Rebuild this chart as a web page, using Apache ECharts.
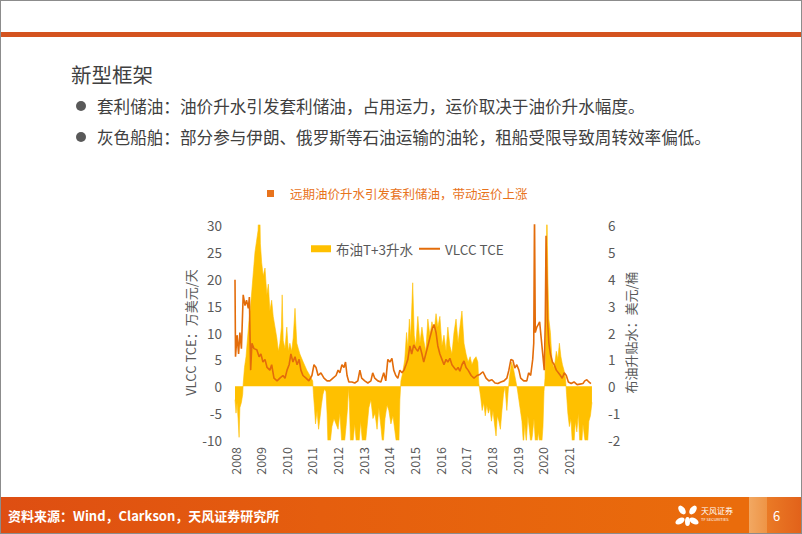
<!DOCTYPE html>
<html><head><meta charset="utf-8">
<script src="https://cdn.jsdelivr.net/npm/echarts@6/dist/echarts.min.js"></script>
<style>
html,body{margin:0;padding:0;background:#fff;}
body{width:802px;height:534px;position:relative;overflow:hidden;font-family:"Noto Sans CJK SC","Noto Sans",sans-serif;}
#chart{position:absolute;left:0;top:0;width:802px;height:534px;}
.frame{position:absolute;left:0;top:0;width:800px;height:532px;border:1px solid #8c8c8c;pointer-events:none;z-index:20}
.topbar{position:absolute;left:1px;top:32px;width:800px;height:5px;background:#D4531F;z-index:5}
.title{position:absolute;left:71px;top:60px;font-size:20.5px;color:#404040;line-height:28px;z-index:5;white-space:nowrap}
.bullet{position:absolute;left:97px;font-size:16.6px;color:#404040;line-height:22px;white-space:nowrap;z-index:5}
.dot{position:absolute;left:76px;width:10px;height:10px;border-radius:50%;background:#595959;z-index:5}
.sq{position:absolute;left:267px;top:190px;width:7px;height:7px;background:#E8731C;z-index:5}
.ctitle{position:absolute;left:290px;top:185px;font-size:12.5px;line-height:18px;color:#E8731C;white-space:nowrap;z-index:5}
.footer{position:absolute;left:1px;top:497px;width:800px;height:36px;background:linear-gradient(to right,#DE4E12 0%,#E55E0E 40%,#EA6C0C 90%);z-index:5}
.fb1{position:absolute;left:749px;top:497px;width:18px;height:36px;background:linear-gradient(to right,#F2A862,#EE9446);z-index:6}
.fb2{position:absolute;left:767px;top:497px;width:34px;height:36px;background:linear-gradient(to right,#EA7A26,#E2621A);z-index:6}
.ftext{position:absolute;left:8px;top:506px;font-size:13px;font-weight:bold;color:#fff;line-height:20px;white-space:nowrap;z-index:7}
.pnum{position:absolute;left:773px;top:506px;font-size:13px;color:#fff;line-height:20px;z-index:7}
.logo{position:absolute;left:676px;top:504px;width:24px;height:24px;z-index:7}
.petal{position:absolute;width:6px;height:10px;background:#fff;border-radius:50%;}
.ltext{position:absolute;left:701px;top:506px;font-size:8px;color:#fff;line-height:10px;white-space:nowrap;z-index:7}
.ltext2{position:absolute;left:701px;top:517px;font-size:4px;color:#fff;line-height:5px;white-space:nowrap;z-index:7}
</style>
</head><body>
<div id="chart"></div>
<div class="frame"></div>
<div class="topbar"></div>
<div class="title">新型框架</div>
<div class="dot" style="top:101px"></div>
<div class="bullet" style="top:95px">套利储油：油价升水引发套利储油，占用运力，运价取决于油价升水幅度。</div>
<div class="dot" style="top:132px"></div>
<div class="bullet" style="top:126px">灰色船舶：部分参与伊朗、俄罗斯等石油运输的油轮，租船受限导致周转效率偏低。</div>
<div class="sq"></div>
<div class="ctitle">远期油价升水引发套利储油，带动运价上涨</div>
<div class="footer"></div>
<div class="fb1"></div>
<div class="fb2"></div>
<div class="ftext">资料来源：Wind，Clarkson，天风证券研究所</div>
<div class="logo">
  <div class="petal" style="left:3px;top:1px;transform:rotate(-35deg)"></div>
  <div class="petal" style="left:14px;top:1px;transform:rotate(35deg)"></div>
  <div class="petal" style="left:1px;top:12px;transform:rotate(60deg)"></div>
  <div class="petal" style="left:15px;top:12px;transform:rotate(-60deg)"></div>
  <div class="petal" style="left:9px;top:13px;width:5px;height:9px"></div>
</div>
<div class="ltext">天风证券</div>
<div class="ltext2">TF SECURITIES</div>
<div class="pnum">6</div>
<script>
// Brent T+3 contango (USD/bbl, right axis) — x in decimal years
const brentYears = [
2008.00,2008.04,2008.08,2008.12,2008.16,2008.19,2008.25,2008.30,2008.32,2008.37,2008.43,2008.49,2008.55,2008.60,2008.66,2008.72,2008.78,2008.84,2008.90,2008.95,2008.99,
2009.04,2009.10,2009.17,2009.24,2009.30,2009.36,2009.43,2009.49,2009.56,2009.63,2009.69,2009.75,2009.81,2009.84,2009.88,2009.95,
2010.02,2010.08,2010.14,2010.21,2010.27,2010.34,2010.41,2010.47,2010.53,2010.66,2010.80,2010.92,2011.03,
2011.06,2011.10,2011.14,2011.20,2011.26,2011.31,2011.37,2011.43,2011.49,2011.55,2011.59,2011.63,2011.70,2011.78,2011.86,2011.94,
2012.02,2012.09,2012.17,2012.25,2012.33,2012.39,2012.42,2012.46,2012.51,2012.59,2012.67,2012.75,2012.83,2012.90,2012.98,
2013.06,2013.14,2013.22,2013.30,2013.38,2013.46,2013.54,2013.61,2013.69,2013.77,2013.85,2013.93,
2014.00,2014.08,2014.16,2014.24,2014.32,2014.39,2014.43,2014.47,2014.54,2014.62,2014.69,2014.74,2014.80,2014.85,2014.93,2014.99,
2015.05,2015.13,2015.21,2015.29,2015.36,2015.44,2015.52,2015.60,2015.68,2015.76,2015.84,2015.91,2015.99,
2016.07,2016.15,2016.23,2016.30,2016.38,2016.46,2016.54,2016.62,2016.70,2016.77,2016.85,2016.93,
2017.01,2017.09,2017.17,2017.24,2017.32,2017.40,2017.47,2017.51,2017.55,2017.58,2017.64,2017.70,2017.76,2017.82,2017.88,2017.94,
2018.00,2018.06,2018.12,2018.18,2018.23,2018.29,2018.35,2018.41,2018.47,2018.53,2018.60,2018.66,2018.71,2018.79,2018.87,2018.95,
2019.01,2019.07,2019.13,2019.19,2019.25,2019.30,2019.36,2019.42,2019.48,2019.54,2019.60,2019.66,2019.72,2019.77,2019.83,2019.89,2019.95,
2020.01,2020.05,2020.09,2020.13,2020.16,2020.20,2020.24,2020.30,2020.36,2020.42,2020.48,2020.53,2020.59,2020.65,2020.71,2020.77,2020.83,2020.89,2020.93,2020.98,
2021.04,2021.10,2021.16,2021.21,2021.27,2021.33,2021.39,2021.45,2021.51,2021.57,2021.63,2021.68,2021.74,2021.80,2021.86,2021.92];
const brentValues = [
-0.5,-1.0,-0.6,-1.2,-1.9,-0.8,-0.6,-0.3,0.1,0.7,1.1,1.8,2.5,2.9,3.6,4.3,5.0,5.4,5.8,7.5,5.3,
4.6,4.1,4.4,3.4,3.8,2.8,3.2,2.6,2.2,1.8,1.3,1.6,2.2,3.4,1.7,1.4,
2.2,1.3,1.6,1.3,1.8,2.9,1.6,1.4,1.2,0.9,0.6,0.4,0.2,
-0.3,-0.8,-1.4,-0.9,-1.6,-1.2,-0.7,-0.3,-0.1,-0.2,-1.0,-2.3,-2.2,-1.5,-1.2,-1.4,
-1.6,-1.0,-2.2,-2.3,-1.5,-0.8,-0.05,-0.6,-2.3,-2.2,-1.4,-2.3,-2.2,-1.3,-2.2,
-2.4,-1.6,-0.8,-0.5,-1.2,-1.0,-1.6,-0.8,-1.5,-2.3,-1.2,-0.7,
-0.9,-1.4,-1.1,-1.7,-2.3,-2.2,-0.5,0.2,0.5,1.0,2.0,1.4,2.5,1.8,3.85,1.9,
1.5,2.6,1.6,2.2,1.7,1.3,2.5,1.9,2.4,2.0,2.7,2.2,2.6,
1.5,1.9,1.3,2.2,1.5,1.2,2.0,2.5,1.6,2.2,2.8,1.6,
1.2,0.9,1.1,0.8,1.0,1.1,0.9,0.1,-0.2,-0.4,-0.9,-0.6,-1.1,-0.7,-1.0,-0.8,
-1.3,-0.9,-1.4,-1.85,-1.1,-1.3,-1.6,-0.9,-0.3,0.0,-0.9,-0.1,0.4,0.9,0.6,0.2,
-0.1,-0.5,-0.9,-1.3,-2.2,-1.4,-2.1,-1.1,-1.6,-2.2,-1.8,-1.2,-2.2,-2.3,-1.7,-2.2,-2.3,
-1.5,-0.2,0.3,2.5,7.0,4.1,2.5,2.0,1.0,0.7,0.9,1.3,1.0,1.6,1.1,0.8,0.6,0.3,-0.3,-1.0,
-1.5,-1.2,-2.2,-2.3,-1.3,-1.7,-1.0,-2.2,-2.3,-1.4,-1.9,-2.2,-2.3,-1.3,-1.1,-0.6];

// VLCC TCE (10k USD/day, left axis)
const vlccYears = [
2008.00,2008.02,2008.08,2008.14,2008.19,2008.25,2008.32,2008.39,2008.45,2008.52,2008.56,2008.61,2008.66,2008.74,2008.85,2008.94,
2009.01,2009.09,2009.17,2009.25,2009.36,2009.43,2009.52,2009.64,2009.75,2009.87,2009.95,
2010.03,2010.11,2010.18,2010.26,2010.34,2010.42,2010.50,2010.57,2010.65,2010.77,2010.88,
2011.00,2011.08,2011.16,2011.24,2011.35,2011.47,2011.59,2011.70,2011.82,2011.94,
2012.02,2012.09,2012.17,2012.25,2012.31,2012.37,2012.44,2012.56,2012.67,2012.79,2012.87,2012.94,
2013.06,2013.18,2013.30,2013.37,2013.45,2013.57,2013.69,2013.80,2013.88,2013.96,
2014.04,2014.12,2014.19,2014.27,2014.35,2014.43,2014.51,2014.59,2014.67,2014.74,2014.82,2014.89,2014.97,
2015.05,2015.13,2015.21,2015.29,2015.36,2015.44,2015.52,2015.60,2015.68,2015.76,2015.84,2015.91,2015.99,
2016.07,2016.15,2016.23,2016.30,2016.38,2016.46,2016.54,2016.62,2016.70,2016.77,2016.85,2016.93,
2017.01,2017.09,2017.21,2017.32,2017.44,2017.55,2017.67,2017.79,2017.90,
2018.02,2018.14,2018.25,2018.37,2018.49,2018.60,2018.68,2018.76,2018.84,2018.91,2018.99,
2019.07,2019.14,2019.26,2019.38,2019.45,2019.53,2019.61,2019.65,2019.68,2019.71,2019.77,2019.83,2019.88,2019.94,
2020.00,2020.06,2020.10,2020.13,2020.17,2020.19,2020.24,2020.30,2020.38,2020.45,2020.53,2020.61,2020.69,2020.76,2020.84,2020.92,
2021.00,2021.11,2021.22,2021.34,2021.45,2021.57,2021.64,2021.72,2021.80,2021.88];
const vlccValues = [
19.8,5.5,9.5,6,10,7,17,15,16,14.5,16.6,3,8,7,6.8,5.5,
6,4.5,5,3.5,3,4,1.5,1,1.5,2,1.5,
3,4,6,4.5,5.5,4,5,3,2,1.5,1,
2,4,3.5,2,2.5,1.5,1,1,1.5,2,
3,2.5,4,3.5,4.5,2,0.8,0.8,0.6,1,3,1.5,
1,0.6,1,2.5,1.5,1,0.8,2.5,1,5,
4.5,5.2,3,2,1.5,3,2.5,3,4,5,7.5,6,7.7,
7,6.5,7.5,6,4.5,6,7.5,9,10.5,11.5,10,7.5,6,
5,4,5,4.5,5.2,4,3.5,3,3.5,2.8,4,4.7,
3.5,3,2,1.5,2,2.2,2.7,1.5,1,
1.2,0.6,0.5,0.8,1,1.5,3,5,4.8,3.4,4,
3,1.5,1,1,2.5,2,5,8,32,10,11,11.5,12,9,
6,3,12,28,18,12,8,6,4.5,4,3,2.5,2,1.5,2.5,2,
0.8,0.5,0.8,0.3,0.4,0.5,1,1.2,0.8,0.5];

const yearTicks = [2008,2009,2010,2011,2012,2013,2014,2015,2016,2017,2018,2019,2020,2021];

const brentData = brentYears.map((x, i) => [x, brentValues[i]]);
const vlccData = vlccYears.map((x, i) => [x, vlccValues[i]]);

const chart = echarts.init(document.getElementById('chart'), null, {renderer: 'svg'});
const font = '"Noto Sans CJK SC","Noto Sans",sans-serif';
chart.setOption({
  animation: false,
  textStyle: {fontFamily: font},
  grid: {left: 235, right: 208, top: 225, bottom: 94},
  legend: [{
    left: 306, top: 237, itemWidth: 20, itemHeight: 7, itemGap: 14,
    textStyle: {color: '#595959', fontSize: 13.5, fontFamily: font},
    data: [{name: '布油T+3升水', icon: 'rect'}]
  }, {
    left: 414, top: 237, itemWidth: 21, itemHeight: 2,
    textStyle: {color: '#595959', fontSize: 13.5, fontFamily: font},
    data: [{name: 'VLCC TCE', icon: 'rect'}]
  }],
  xAxis: {
    type: 'value', min: 2008, max: 2022, interval: 1,
    axisLine: {show: false, onZero: false}, axisTick: {show: false}, splitLine: {show: false},
    axisLabel: {
      rotate: 90, margin: 7, color: '#595959', fontSize: 12.5, fontFamily: font,
      formatter: v => { const r = Math.round(v); return yearTicks.includes(r) ? String(r) : ''; }
    }
  },
  yAxis: [{
    type: 'value', min: -10, max: 30, interval: 5, position: 'left',
    name: 'VLCC TCE：万美元/天', nameLocation: 'middle', nameGap: 38,
    nameTextStyle: {color: '#595959', fontSize: 13, fontFamily: font},
    axisLine: {show: false}, axisTick: {show: false}, splitLine: {show: false},
    axisLabel: {color: '#595959', fontSize: 13.5, margin: 13, fontFamily: font}
  }, {
    type: 'value', min: -2, max: 6, interval: 1, position: 'right',
    name: '布油升贴水：美元/桶', nameLocation: 'middle', nameGap: 30, nameRotate: 90,
    nameTextStyle: {color: '#595959', fontSize: 13, fontFamily: font},
    axisLine: {show: false}, axisTick: {show: false}, splitLine: {show: false},
    axisLabel: {color: '#595959', fontSize: 13.5, margin: 14, fontFamily: font}
  }],
  series: [{
    name: '布油T+3升水', type: 'line', yAxisIndex: 1, data: brentData,
    symbol: 'none', z: 2,
    itemStyle: {color: '#FFC000'},
    lineStyle: {width: 0.6, color: '#FFC000'},
    areaStyle: {color: '#FFC000', opacity: 1}
  }, {
    name: 'VLCC TCE', type: 'line', yAxisIndex: 0, data: vlccData,
    symbol: 'none', z: 3,
    itemStyle: {color: '#E36C0A'},
    lineStyle: {width: 1.6, color: '#E36C0A'}
  }]
});
</script>
</body></html>
